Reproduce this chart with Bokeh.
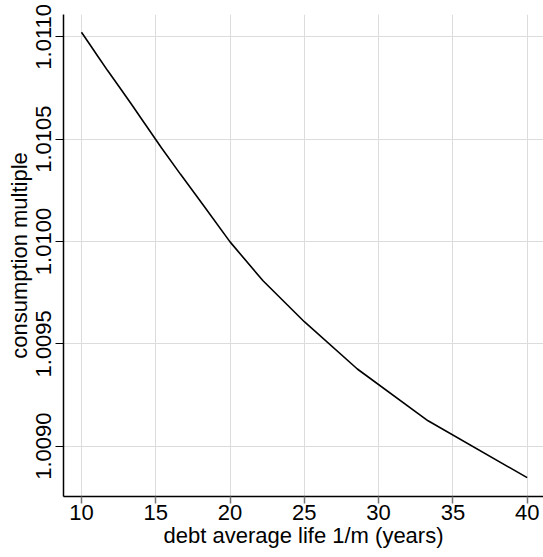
from bokeh.plotting import figure
from bokeh.models import FixedTicker, NumeralTickFormatter, Range1d
from bokeh.embed import file_html
from bokeh.resources import INLINE

# data: debt average life 1/m (years) vs consumption multiple
life_years = [10.0, 10.53, 11.11, 11.76, 12.5, 13.33, 14.29, 15.38, 16.67,
              18.18, 20.0, 22.22, 25.0, 28.57, 33.33, 40.0]
consumption_multiple = [1.011022, 1.010966, 1.010904, 1.010835, 1.010760,
                        1.010674, 1.010573, 1.010458, 1.010328, 1.010179,
                        1.009998, 1.009808, 1.009608, 1.009377, 1.009124,
                        1.008846]
x_ticks = [10, 15, 20, 25, 30, 35, 40]
y_ticks = [1.0090, 1.0095, 1.0100, 1.0105, 1.0110]

FONT = "Liberation Sans"

p = figure(width=543, height=557, output_backend="svg", toolbar_location=None,
           x_range=Range1d(8.79, 41.1), y_range=Range1d(1.008754, 1.011109),
           min_border_left=63, min_border_right=0, min_border_top=14,
           min_border_bottom=61)
p.outline_line_color = None
p.background_fill_color = "white"
p.border_fill_color = "white"

p.line(life_years, consumption_multiple, line_color="black", line_width=1.6)

# x axis
xa = p.xaxis[0]
xa.ticker = FixedTicker(ticks=x_ticks)
xa.axis_label = "debt average life 1/m (years)"
xa.axis_label_text_font = FONT
xa.axis_label_text_font_size = "22px"
xa.axis_label_text_font_style = "normal"
xa.axis_label_text_color = "black"
xa.axis_label_standoff = 0
xa.major_label_text_font = FONT
xa.major_label_text_font_size = "22px"
xa.major_label_text_color = "black"
xa.major_label_standoff = 1
xa.axis_line_color = "black"
xa.axis_line_width = 1.5
xa.major_tick_line_color = "#777777"
xa.major_tick_line_width = 1.5
xa.major_tick_in = 0
xa.major_tick_out = 7
xa.minor_tick_line_color = None

# y axis
ya = p.yaxis[0]
ya.ticker = FixedTicker(ticks=y_ticks)
ya.formatter = NumeralTickFormatter(format="0.0000")
ya.axis_label = "consumption multiple"
ya.axis_label_text_font = FONT
ya.axis_label_text_font_size = "22px"
ya.axis_label_text_font_style = "normal"
ya.axis_label_text_color = "black"
ya.axis_label_standoff = 2
ya.major_label_text_font = FONT
ya.major_label_text_font_size = "22px"
ya.major_label_text_color = "black"
ya.major_label_orientation = "parallel"
ya.major_label_standoff = 4
ya.axis_line_color = "black"
ya.axis_line_width = 1.5
ya.major_tick_line_color = "black"
ya.major_tick_line_width = 1
ya.major_tick_in = 0
ya.major_tick_out = 8
ya.minor_tick_line_color = None

p.xgrid.grid_line_color = "#dcdcdc"
p.ygrid.grid_line_color = "#dcdcdc"
p.xgrid.grid_line_width = 1
p.ygrid.grid_line_width = 1

open("out.html", "w").write(file_html(p, INLINE))
